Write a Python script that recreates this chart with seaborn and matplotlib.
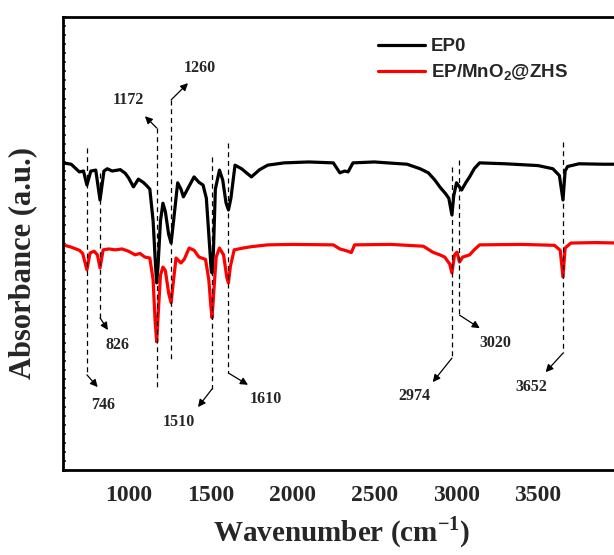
import numpy as np
import pandas as pd
import seaborn as sns
import matplotlib.pyplot as plt
from matplotlib.ticker import MultipleLocator, NullFormatter

# FTIR spectra (arbitrary absorbance units)
ep0_wn = [600, 650, 700, 725, 746, 770, 800, 826, 850, 870, 900, 950, 980, 1000,
          1030, 1060, 1090, 1110, 1130, 1150, 1165, 1172, 1180, 1195, 1210, 1225,
          1245, 1260, 1275, 1300, 1320, 1335, 1360, 1400, 1430, 1455, 1475, 1490,
          1505, 1510, 1518, 1530, 1555, 1575, 1595, 1610, 1625, 1650, 1690, 1750,
          1800, 1850, 1950, 2100, 2250, 2290, 2320, 2340, 2370, 2500, 2700, 2780,
          2830, 2870, 2900, 2935, 2955, 2974, 2985, 3002, 3020, 3033, 3060, 3082,
          3110, 3143, 3300, 3500, 3590, 3630, 3652, 3665, 3680, 3750, 3900, 4000]
ep0_abs = [67.8, 67.5, 65.8, 66.0, 62.9, 66.0, 66.2, 59.6, 66.0, 66.5, 66.0, 66.3, 65.5, 64.5,
           62.5, 64.2, 63.5, 62.8, 62.0, 55.0, 45.0, 41.3, 45.0, 55.0, 58.9, 57.0,
           52.0, 50.1, 55.0, 63.4, 62.0, 60.3, 62.0, 64.7, 63.5, 62.9, 60.0, 52.0,
           44.0, 43.5, 48.0, 62.0, 66.2, 64.0, 59.0, 57.4, 60.0, 67.3, 66.5, 64.7,
           66.3, 67.3, 67.8, 68.0, 67.8, 65.6, 66.0, 65.8, 67.8, 68.0, 67.5, 66.5,
           65.6, 64.0, 62.5, 61.0, 60.0, 56.3, 60.5, 63.4, 62.5, 61.8, 63.5, 64.7,
           66.5, 67.8, 67.6, 67.2, 66.5, 65.0, 59.6, 66.0, 67.0, 67.6, 67.5, 67.5]

mno2_wn = [600, 650, 700, 720, 746, 765, 790, 810, 826, 845, 880, 920, 960, 1000,
           1040, 1070, 1100, 1130, 1150, 1162, 1172, 1182, 1195, 1210, 1225, 1245,
           1260, 1272, 1290, 1320, 1340, 1370, 1400, 1430, 1470, 1490, 1503, 1510,
           1518, 1535, 1555, 1580, 1600, 1610, 1622, 1645, 1700, 1750, 1850, 2000,
           2250, 2290, 2330, 2360, 2380, 2600, 2800, 2856, 2900, 2930, 2960, 2974,
           2990, 3005, 3020, 3040, 3082, 3110, 3143, 3400, 3600, 3635, 3652, 3665,
           3700, 3850, 4000]
mno2_abs = [49.7, 49.2, 48.5, 47.8, 44.2, 47.9, 48.3, 47.5, 44.6, 48.6, 48.8, 48.6, 48.8, 48.3,
            47.5, 47.8, 47.0, 46.8, 42.0, 33.0, 28.3, 35.0, 43.0, 44.8, 44.0, 39.0,
            36.9, 41.0, 46.8, 45.7, 46.5, 49.0, 48.5, 47.0, 46.5, 42.0, 36.0, 33.6,
            38.0, 47.0, 49.0, 47.5, 42.5, 41.3, 45.0, 48.6, 49.0, 49.3, 49.7, 49.8,
            49.7, 48.8, 48.4, 48.0, 49.7, 49.8, 49.4, 48.1, 47.5, 47.0, 45.5, 43.5,
            47.5, 48.1, 45.9, 47.0, 47.5, 48.6, 49.7, 49.8, 49.6, 48.5, 42.6, 49.0,
            50.1, 50.2, 50.1]

peak_labels = ["746", "826", "1172", "1260", "1510", "1610", "2974", "3020", "3652"]
peak_wn = [746, 826, 1172, 1260, 1510, 1610, 2974, 3020, 3652]
xtick_vals = [1000, 1500, 2000, 2500, 3000, 3500]

# annotation layout: dashed line span, arrow start/end, label position
guides = {
    746:  dict(span=(71.1, 21.0), start=(746, 21.0), tip=(812, 18.3), text=(844, 14.3)),
    826:  dict(span=(65.6, 33.6), start=(826, 33.6), tip=(874, 30.9), text=(935, 27.6)),
    1172: dict(span=(75.5, 18.3), start=(1172, 75.5), tip=(1100, 78.1), text=(997, 81.7)),
    1260: dict(span=(81.7, 24.5), start=(1260, 81.7), tip=(1363, 85.4), text=(1436, 88.7)),
    1510: dict(span=(69.1, 17.9), start=(1510, 17.9), tip=(1424, 13.9), text=(1308, 10.6)),
    1610: dict(span=(72.2, 21.4), start=(1610, 21.4), tip=(1729, 18.8), text=(1838, 15.7)),
    2974: dict(span=(66.9, 24.7), start=(2974, 24.7), tip=(2857, 19.4), text=(2747, 16.3)),
    3020: dict(span=(68.4, 34.2), start=(3020, 34.2), tip=(3144, 31.3), text=(3241, 28.0)),
    3652: dict(span=(72.4, 25.8), start=(3652, 25.8), tip=(3546, 21.6), text=(3461, 18.3)),
}

df = pd.concat([
    pd.DataFrame({"wn": ep0_wn, "abs": ep0_abs, "sample": "EP0"}),
    pd.DataFrame({"wn": mno2_wn, "abs": mno2_abs, "sample": r"EP/MnO$_\mathsf{2}$@ZHS"}),
])

sns.set_style("white")
plt.rcParams["font.family"] = ["Liberation Serif", "DejaVu Serif"]
plt.rcParams["mathtext.fontset"] = "custom"
plt.rcParams["mathtext.rm"] = "Liberation Serif:bold"
plt.rcParams["mathtext.bf"] = "Liberation Serif:bold"
plt.rcParams["mathtext.sf"] = "Liberation Sans:bold"

fig = plt.figure(figsize=(6.14, 5.55), dpi=100)
ax = fig.add_axes([63 / 614, 85 / 555, 557 / 614, 453 / 555])

sns.lineplot(data=df, x="wn", y="abs", hue="sample", palette=["black", "red"],
             sort=False, linewidth=2.3, ax=ax, legend=True)

for wn in peak_wn:
    g = guides[wn]
    ax.plot([wn, wn], g["span"], color="black", lw=0.9, ls=(0, (4, 3)))
    ax.annotate("", xy=g["tip"], xytext=g["start"],
                arrowprops=dict(arrowstyle="-|>", color="black", lw=0.9,
                                mutation_scale=11, shrinkA=0, shrinkB=0))
for lab, wn in zip(peak_labels, peak_wn):
    x, y = guides[wn]["text"]
    ax.text(x, y, lab, ha="center", va="center", fontsize=11.5, fontweight="bold")

ax.set_xlim(600, 4000)
ax.set_ylim(0, 100)
ax.set_xticks(xtick_vals)
ax.xaxis.set_minor_locator(MultipleLocator(250))
ax.yaxis.set_major_locator(MultipleLocator(2))
ax.yaxis.set_major_formatter(NullFormatter())
ax.tick_params(axis="x", which="major", direction="out", length=5, width=1.5,
               labelsize=17, pad=6)
ax.tick_params(axis="x", which="minor", direction="out", length=3.5, width=1.5)
ax.tick_params(axis="y", which="major", direction="in", length=2.5, width=1.2, left=True)
for lab in ax.get_xticklabels():
    lab.set_fontweight("bold")
for s in ax.spines.values():
    s.set_linewidth(2)
    s.set_color("black")

ax.set_xlabel(r"Wavenumber (cm$^{\mathbf{-1}}$)", fontsize=21, fontweight="bold", labelpad=6)
ax.set_ylabel("Absorbance (a.u.)", fontsize=22, fontweight="bold")
ax.yaxis.set_label_coords(-0.047, 0.457)

ax.legend(loc="upper left", bbox_to_anchor=(378 / 614, 1 - 38 / 555),
          bbox_transform=fig.transFigure, frameon=False, borderpad=0,
          borderaxespad=0, handlelength=2.5, handletextpad=0.3, labelspacing=0.42,
          prop={"family": "Liberation Sans", "weight": "bold", "size": 13.5})

fig.savefig("out.png", dpi=100)
